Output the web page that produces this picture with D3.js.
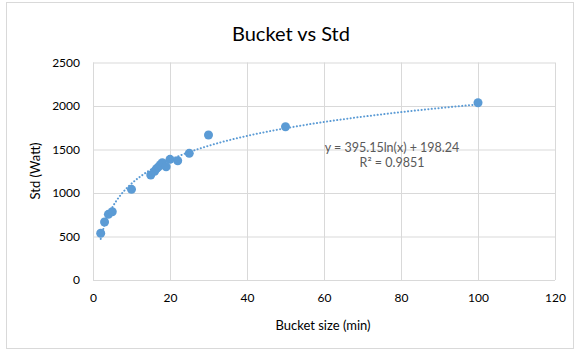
<!DOCTYPE html>
<html>
<head>
<meta charset="utf-8">
<script src="https://cdn.jsdelivr.net/npm/d3@7"></script>
<style>
  body { margin: 0; background: #fff; }
  text { font-family: Lato, "Open Sans", sans-serif; }
</style>
</head>
<body>
<div id="container"></div>
<script>
// data
const bucketSize = [2, 3, 4, 5, 10, 15, 16, 16.5, 17, 17.5, 18, 19, 20, 22, 25, 30, 50, 100];
const stdWatt = [537, 667, 755, 785, 1042, 1207, 1250, 1280, 1300, 1325, 1348, 1302, 1387, 1371, 1456, 1667, 1762, 2038];
const xTicks = [0, 20, 40, 60, 80, 100, 120];
const yTicks = [0, 500, 1000, 1500, 2000, 2500];
const trendA = 395.15;
const trendB = 198.24;
const trendLabel = ['y = 395.15ln(x) + 198.24', 'R\u00b2 = 0.9851'];

const width = 574;
const height = 352;
const margin = { top: 62.5, right: 19, bottom: 72, left: 93 };
const blue = '#5b9bd5';
const grey = '#d9d9d9';
const textCol = '#595959';

const svg = d3.select('#container').append('svg')
    .attr('width', width)
    .attr('height', height);

// chart frame
svg.append('rect')
    .attr('x', 6.5).attr('y', 2.5)
    .attr('width', width - 7).attr('height', 346)
    .attr('fill', '#fff')
    .attr('stroke', '#d9d9d9');

const x = d3.scaleLinear().domain([0, 120]).range([margin.left, width - margin.right]);
const y = d3.scaleLinear().domain([0, 2500]).range([height - margin.bottom, margin.top]);

const g = svg.append('g');

// gridlines
g.append('g')
    .attr('transform', `translate(0,${y(0)})`)
    .call(d3.axisBottom(x).tickValues(xTicks).tickSize(-(y(0) - y(2500))).tickFormat(''))
    .call(s => s.select('.domain').remove())
    .call(s => s.selectAll('line').attr('stroke', grey));
g.append('g')
    .attr('transform', `translate(${x(0)},0)`)
    .call(d3.axisLeft(y).tickValues(yTicks).tickSize(-(x(120) - x(0))).tickFormat(''))
    .call(s => s.select('.domain').remove())
    .call(s => s.selectAll('line').attr('stroke', grey));

// tick labels
g.append('g')
    .attr('transform', `translate(0,${y(0)})`)
    .call(d3.axisBottom(x).tickValues(xTicks).tickSize(0).tickPadding(13).tickFormat(d3.format('d')))
    .call(s => s.select('.domain').remove())
    .call(s => s.selectAll('text').attr('fill', '#000').style('font-size', '12px'));
g.append('g')
    .attr('transform', `translate(${x(0)},0)`)
    .call(d3.axisLeft(y).tickValues(yTicks).tickSize(0).tickPadding(13).tickFormat(d3.format('d')))
    .call(s => s.select('.domain').remove())
    .call(s => s.selectAll('text').attr('fill', '#000').style('font-size', '12px'));

// trendline
const trendX = d3.range(2, 100.01, 0.5);
const line = d3.line()
    .x(d => x(d))
    .y(d => y(trendA * Math.log(d) + trendB));
g.append('path')
    .datum(trendX)
    .attr('d', line)
    .attr('fill', 'none')
    .attr('stroke', blue)
    .attr('stroke-width', 2)
    .attr('stroke-linecap', 'round')
    .attr('stroke-dasharray', '0.1 3.3');

// points
g.append('g')
    .selectAll('circle')
    .data(bucketSize)
    .enter()
    .append('circle')
    .attr('cx', d => x(d))
    .attr('cy', (d, i) => y(stdWatt[i]))
    .attr('r', 4.5)
    .attr('fill', blue);

// equation
svg.append('g')
    .selectAll('text')
    .data(trendLabel)
    .enter()
    .append('text')
    .attr('x', 392)
    .attr('y', (d, i) => 152 + i * 15)
    .attr('text-anchor', 'middle')
    .attr('fill', textCol)
    .style('font-size', '12.5px')
    .text(d => d);

// titles
svg.append('text')
    .attr('x', 291).attr('y', 41)
    .attr('text-anchor', 'middle')
    .style('font-size', '20px')
    .attr('fill', '#000')
    .text('Bucket vs Std');
svg.append('text')
    .attr('x', 323).attr('y', 330)
    .attr('text-anchor', 'middle')
    .style('font-size', '13px')
    .attr('fill', '#000')
    .text('Bucket size (min)');
svg.append('text')
    .attr('transform', 'translate(40,171) rotate(-90)')
    .attr('text-anchor', 'middle')
    .style('font-size', '13px')
    .attr('fill', '#000')
    .text('Std (Watt)');
</script>
</body>
</html>
